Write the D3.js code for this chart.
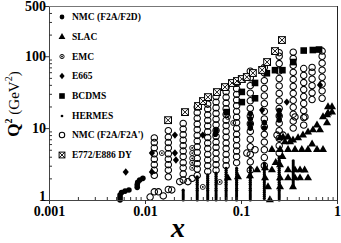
<!DOCTYPE html>
<html>
<head>
<meta charset="utf-8">
<script src="https://cdn.jsdelivr.net/npm/d3@7"></script>
<style>
  body { margin: 0; background: #fff; }
  svg { display: block; font-family: "Liberation Serif", "Times New Roman", serif; }
</style>
</head>
<body>
<svg id="chart" width="341" height="243"></svg>
<script>
// ---- data: [x, Q2] ----
const nmcF2D = [
  [0.0055, 1.0], [0.0055, 1.08], [0.0055, 1.17], [0.0057, 1.27], [0.0062, 1.33],
  [0.0068, 1.38], [0.0083, 1.5], [0.0083, 1.63], [0.0084, 1.77], [0.0088, 1.9],
  [0.0095, 2.0], [0.054, 8.2], [0.055, 9.3], [0.125, 10], [0.125, 11.5],
  [0.125, 13.5], [0.125, 16], [0.175, 10], [0.175, 12], [0.25, 13], [0.25, 15], [0.25, 17.5]
];
const slac = [
  [0.073, 2.02], [0.093, 2.09], [0.124, 2.16], [0.147, 2.61], [0.178, 2.79], [0.178, 2.02],
  [0.191, 1.52], [0.2, 1.0], [0.21, 5.0], [0.21, 2.61], [0.255, 7.3], [0.255, 5.0],
  [0.255, 3.07], [0.255, 2.02], [0.255, 1.52], [0.274, 7.5], [0.287, 6.4], [0.309, 7.5],
  [0.309, 5.0], [0.309, 2.61], [0.309, 2.02], [0.324, 6.4], [0.348, 6.8], [0.348, 1.52],
  [0.365, 5.0], [0.365, 2.61], [0.365, 2.02], [0.393, 7.3], [0.412, 2.61], [0.412, 2.02],
  [0.442, 8.0], [0.499, 8.8], [0.499, 5.0], [0.499, 2.02], [0.562, 9.4], [0.619, 11.0],
  [0.619, 5.0], [0.665, 9.4], [0.715, 14.3], [0.715, 5.0], [0.787, 11.8], [0.787, 15.2],
  [0.806, 19.7], [0.887, 19.7], [0.887, 16.7], [0.806, 16.2], [0.23, 3.3], [0.43, 5.0],
  [0.55, 6.0], [0.27, 4.0], [0.46, 2.6]
];
const emc = [
  [0.015, 4.5], [0.031, 5.3], [0.031, 4.5], [0.031, 3.8], [0.031, 3.3], [0.031, 2.8],
  [0.04, 1.52], [0.06, 1.78], [0.073, 14.3], [0.083, 11.8]
];
const e665 = [
  [0.0063, 2.45], [0.0118, 4.5], [0.0118, 2.45], [0.0205, 8], [0.0205, 4.5], [0.021, 3.6],
  [0.04, 8], [0.166, 17.9], [0.3, 23], [0.665, 39.8]
];
const bcdms = [
  [0.071, 16.7], [0.102, 31.9], [0.102, 23], [0.14, 42.5], [0.14, 26], [0.186, 58],
  [0.226, 64], [0.27, 64], [0.35, 83], [0.45, 120], [0.56, 122], [0.65, 124]
];
const hermesX = [0.025, 0.035, 0.045, 0.055, 0.07, 0.09, 0.125, 0.175, 0.25, 0.35];
const hermesQ2 = [
  [1.0, 1.07, 1.14, 1.21, 1.29, 1.37],
  [1.0, 1.07, 1.14, 1.21, 1.29, 1.37, 1.46, 1.56, 1.66, 1.77, 1.89, 2.01, 2.1],
  [1.0, 1.07, 1.14, 1.21, 1.29, 1.37, 1.46, 1.56, 1.66, 1.77, 1.89, 2.01, 2.12, 2.23],
  [1.0, 1.07, 1.14, 1.21, 1.29, 1.37, 1.46, 1.56, 1.66, 1.77, 1.89, 2.01, 2.14, 2.27, 2.37],
  [1.0, 1.07, 1.14, 1.21, 1.29, 1.37, 1.46, 1.56, 1.66, 1.77, 1.89, 2.01, 2.14, 2.28, 2.43, 2.59, 2.76],
  [1.0, 1.07, 1.14, 1.21, 1.29, 1.37, 1.46, 1.56, 1.66, 1.77, 1.89, 2.01, 2.14, 2.28, 2.43, 2.59, 2.76],
  [1.0, 1.07, 1.14, 1.21, 1.29, 1.37, 1.46, 1.56, 1.66, 1.77, 1.89, 2.01, 2.14, 2.28, 2.43, 2.59, 2.76, 2.9],
  [1.05, 1.12, 1.19, 1.27, 1.35, 1.44, 1.53, 1.63, 1.74, 1.85, 1.97, 2.1, 2.24, 2.39, 2.55, 2.72, 2.9, 3.09, 3.27],
  [1.0, 1.07, 1.14, 1.21, 1.29, 1.37, 1.46, 1.56, 1.66, 1.77, 1.89, 2.01, 2.14, 2.28, 2.43, 2.59, 2.76, 2.94, 3.13, 3.34, 3.56, 3.8, 3.96],
  [1.52, 1.62, 1.73, 1.84, 1.96, 2.09, 2.23, 2.37, 2.53, 2.7, 2.88, 3.07, 3.27, 3.5]
];
const nmc2X = [0.0125, 0.0175, 0.025, 0.035, 0.045, 0.055, 0.07, 0.09, 0.125, 0.175, 0.25, 0.35, 0.45, 0.55, 0.7];
const nmc2Q2 = [
  [1.3, 2.2, 2.6, 3.1, 3.7, 4.4, 5.3, 6.3, 7.3],
  [1.4, 2.1, 2.6, 3.1, 3.7, 4.4, 5.3, 6.3, 7.5, 9.2],
  [1.9, 2.3, 2.8, 3.3, 4.0, 4.8, 5.7, 6.8, 8.1, 9.7, 11.6],
  [2.2, 2.7, 3.2, 3.8, 4.6, 5.5, 6.6, 7.9, 9.5, 11.4, 13.7, 16.4, 19.6],
  [2.5, 3.0, 3.6, 4.3, 5.2, 6.2, 7.4, 8.9, 10.7, 12.8, 15.3, 18.4, 21.5],
  [2.6, 3.1, 3.7, 4.5, 5.4, 6.4, 7.7, 9.3, 11.1, 13.3, 16.0, 19.2, 23.0, 27.5],
  [3.0, 3.6, 4.3, 5.2, 6.2, 7.5, 9.0, 10.8, 12.9, 15.5, 18.6, 22.3, 26.8, 32, 37],
  [3.3, 4.0, 4.8, 5.7, 6.9, 8.2, 9.9, 11.9, 14.2, 17.1, 20.5, 24.6, 29.5, 35.4, 42],
  [2.6, 3.4, 4.3, 5.5, 7.0, 9.0, 11.5, 14.7, 18.8, 24, 30.7, 39, 50, 62],
  [3.0, 3.9, 5.0, 6.4, 8.2, 10.5, 13.4, 17.1, 21.9, 28, 35.8, 45.8, 58.6, 70],
  [4.5, 5.7, 7.2, 9.2, 11.7, 14.8, 18.8, 23.9, 30.4, 38.6, 49, 62.3, 79, 100, 112],
  [10, 12.5, 15.6, 19.5, 24.4, 30.5, 38, 47.6, 59.5, 74.4, 93, 114],
  [11, 14, 17.5, 22, 27.5, 34.4, 43, 54, 67.5],
  [25, 31, 39, 48, 60, 70],
  [26, 33, 41, 51, 64, 80, 100, 118]
];
const nmc2Extra = [
  [0.0113, 1.1], [0.0138, 1.3], [0.0155, 1.14], [0.019, 1.38], [0.023, 1.8], [0.028, 1.8],
  [0.031, 2.0], [0.115, 4.5], [0.14, 5.0], [0.237, 8], [0.274, 8], [0.365, 14.3], [0.464, 14.3]
];
const e772 = [
  [0.0174, 12.9], [0.0261, 16.7], [0.0357, 20.3], [0.0402, 23.8], [0.0453, 27.0],
  [0.0562, 31.7], [0.068, 37.2], [0.0805, 42.4], [0.0908, 45.2], [0.102, 48.2],
  [0.115, 51.4], [0.133, 58.4], [0.166, 64.4], [0.187, 83], [0.226, 118], [0.267, 168]
];
const legendLabels = ["NMC (F2A/F2D)", "SLAC", "EMC", "E665", "BCDMS", "HERMES", "NMC (F2A/F2A')", "E772/E886 DY"];
const legendKinds = ["fillCircle", "tri", "dotCircle", "diamond", "square", "dot", "openCircle", "xbox"];
const xTicks = [0.001, 0.01, 0.1, 1];
const xTickLabels = ["0.001", "0.01", "0.1", "1"];
const yTicks = [1, 10, 100, 500];

// ---- chart ----
const svg = d3.select("#chart");
const x = d3.scaleLog().domain([0.001, 1]).range([49, 337]);
const y = d3.scaleLog().domain([1, 500]).range([200, 6]);

// build flat point lists from column data
const hermes = hermesX.flatMap((xv, i) => hermesQ2[i].map(q => [xv, q]));
const nmc2 = nmc2X.flatMap((xv, i) => nmc2Q2[i].map(q => [xv, q])).concat(nmc2Extra);

function drawMark(g, kind, s = 1) {
  if (kind === "fillCircle") {
    g.append("circle").attr("r", 2.8 * s).attr("fill", "#000");
  } else if (kind === "tri") {
    g.append("path").attr("d", d3.symbol(d3.symbolTriangle, 28 * s * s)()).attr("fill", "#000");
  } else if (kind === "dotCircle") {
    g.append("circle").attr("r", 2.5 * s).attr("fill", "none").attr("stroke", "#000").attr("stroke-width", 0.9);
    g.append("circle").attr("r", 0.9).attr("fill", "#000");
  } else if (kind === "diamond") {
    g.append("path").attr("d", `M0,${-3.7 * s}L${3.1 * s},0L0,${3.7 * s}L${-3.1 * s},0Z`).attr("fill", "#000");
  } else if (kind === "square") {
    g.append("rect").attr("x", -3.3 * s).attr("y", -3.3 * s).attr("width", 6.6 * s).attr("height", 6.6 * s).attr("fill", "#000");
  } else if (kind === "dot") {
    g.append("circle").attr("r", 1.6 * s).attr("fill", "#000");
  } else if (kind === "openCircle") {
    g.append("circle").attr("r", 3.2 * s).attr("fill", "none").attr("stroke", "#000").attr("stroke-width", 1.05);
  } else if (kind === "xbox") {
    const h = 3.4 * s;
    g.append("rect").attr("x", -h).attr("y", -h).attr("width", 2 * h).attr("height", 2 * h)
      .attr("fill", "#fff").attr("stroke", "#000").attr("stroke-width", 1);
    g.append("path").attr("d", `M${-h},${-h}L${h},${h}M${h},${-h}L${-h},${h}`).attr("stroke", "#000").attr("stroke-width", 0.9);
  }
}

function plotSeries(data, kind) {
  svg.append("g").selectAll("g").data(data).join("g")
    .attr("transform", d => `translate(${x(d[0])},${y(d[1])})`)
    .each(function () { drawMark(d3.select(this), kind); });
}

plotSeries(nmc2, "openCircle");
plotSeries(emc, "dotCircle");
plotSeries(hermes, "dot");
plotSeries(slac, "tri");
plotSeries(nmcF2D, "fillCircle");
plotSeries(e665, "diamond");
plotSeries(bcdms, "square");
plotSeries(e772, "xbox");

// minor tick values
const minorX = [];
[0.001, 0.01, 0.1].forEach(d => { for (let k = 2; k <= 9; k++) minorX.push(d * k); });
const minorY = [];
[1, 10, 100].forEach(d => { for (let k = 2; k <= 9; k++) if (d * k < 500) minorY.push(d * k); });

const xAxis = svg.append("g").attr("transform", "translate(0,200)")
  .call(d3.axisBottom(x).tickValues(xTicks).tickSize(4).tickFormat((d, i) => xTickLabels[i]));
svg.append("g").attr("transform", "translate(0,200)")
  .call(d3.axisBottom(x).tickValues(minorX).tickSize(-3).tickFormat(""))
  .select(".domain").remove();

const yAxis = svg.append("g").attr("transform", "translate(49,0)")
  .call(d3.axisLeft(y).tickValues(yTicks).tickSize(5).tickFormat(d3.format("d")));
svg.append("g").attr("transform", "translate(49,0)")
  .call(d3.axisLeft(y).tickValues(minorY).tickSize(-3).tickFormat(""))
  .select(".domain").remove();

svg.selectAll(".tick line").attr("stroke", "#333");
svg.selectAll(".domain").attr("stroke", "#444");
xAxis.selectAll("text").attr("font-size", 14).attr("font-weight", "bold")
  .attr("font-family", "Liberation Serif").attr("fill", "#000").attr("dy", "0.71em").attr("y", 6.5);
yAxis.selectAll("text").attr("font-size", 14).attr("font-weight", "bold")
  .attr("font-family", "Liberation Serif").attr("fill", "#000").attr("x", -3)
  .attr("dy", d => d === 1 ? "0.04em" : "0.32em");

// frame top and right
svg.append("line").attr("x1", 49).attr("x2", 337).attr("y1", 6.5).attr("y2", 6.5).attr("stroke", "#777");
svg.append("line").attr("x1", 337.5).attr("x2", 337.5).attr("y1", 6).attr("y2", 200).attr("stroke", "#222");

// axis titles
svg.append("text").attr("x", 178).attr("y", 237).attr("text-anchor", "middle")
  .attr("font-size", 28).attr("font-weight", "bold").attr("font-style", "italic").text("x");

const yt = svg.append("text").attr("transform", "translate(19,104) rotate(-90)")
  .attr("text-anchor", "middle").attr("font-size", 15);
yt.append("tspan").attr("font-weight", "bold").attr("font-size", 17).text("Q");
yt.append("tspan").attr("font-weight", "bold").attr("font-size", 10).attr("dy", -7).text("2");
yt.append("tspan").attr("dy", 7).text(" (GeV");
yt.append("tspan").attr("font-size", 10).attr("dy", -7).text("2");
yt.append("tspan").attr("dy", 7).text(")");

// legend, markers a bit smaller than in the plot
const legendY = [17, 37, 56.5, 76, 96, 116, 135, 155];
const legend = svg.append("g");
legendLabels.forEach((label, i) => {
  const row = legend.append("g").attr("transform", `translate(62,${legendY[i]})`);
  drawMark(row, legendKinds[i], 0.85);
  row.append("text").attr("x", 10).attr("y", 3.2).attr("font-size", 9.5)
    .attr("font-weight", "bold").text(label);
});
</script>
</body>
</html>
